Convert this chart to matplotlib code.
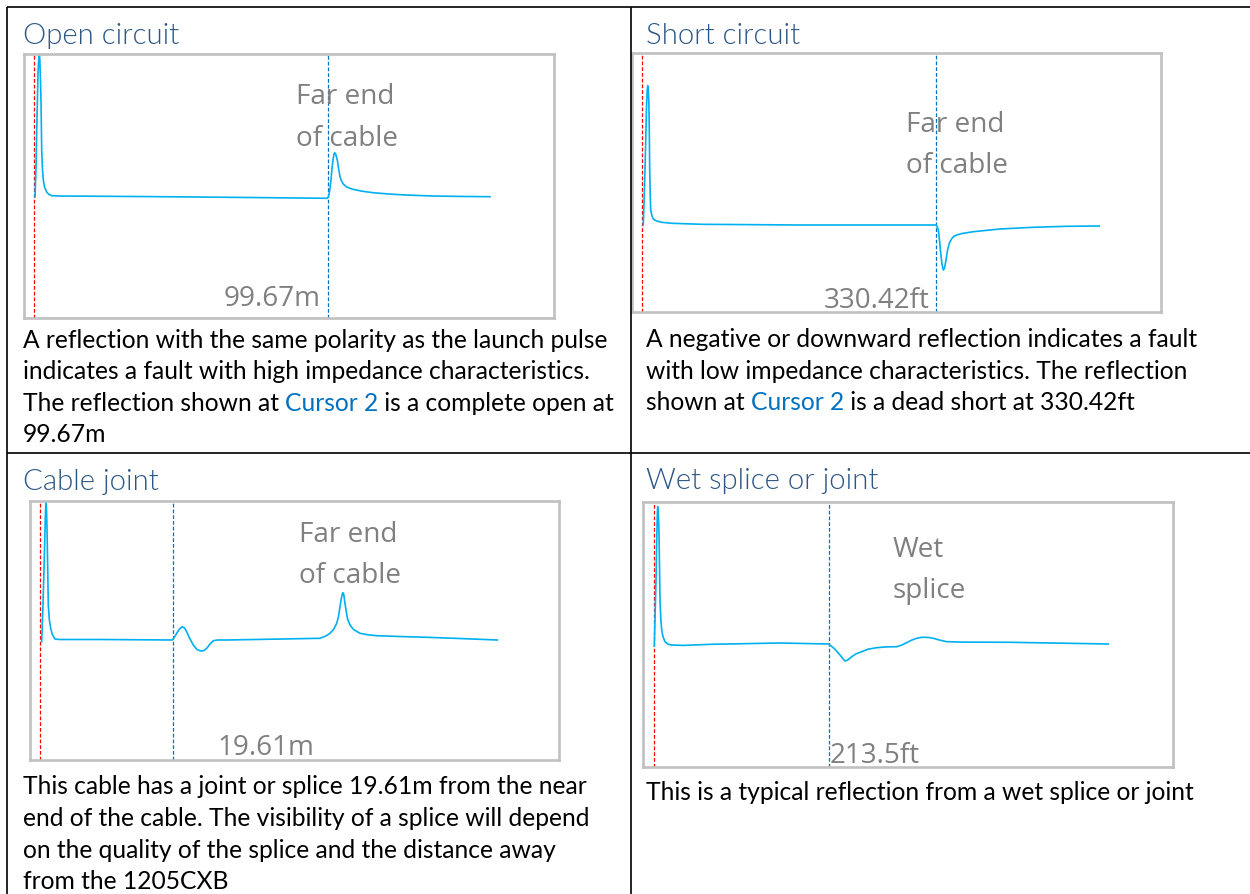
import matplotlib
matplotlib.use("Agg")
import matplotlib.pyplot as plt

# ---------------- data ----------------
titles = ["Open circuit", "Short circuit", "Cable joint", "Wet splice or joint"]
cursor_labels = ["99.67m", "330.42ft", "19.61m", "213.5ft"]
feature_labels = [["Far end", "of cable"], ["Far end", "of cable"],
                  ["Far end", "of cable"], ["Wet", "splice"]]

# descriptions: each line is a list of (text, is_highlight) segments
desc_open = [
    [("A reflection with the same polarity as the launch pulse", False)],
    [("indicates a fault with high impedance characteristics.", False)],
    [("The reflection shown at ", False), ("Cursor 2", True), (" is a complete open at", False)],
    [("99.67m", False)],
]
desc_short = [
    [("A negative or downward reflection indicates a fault", False)],
    [("with low impedance characteristics. The reflection", False)],
    [("shown at ", False), ("Cursor 2", True), (" is a dead short at 330.42ft", False)],
]
desc_joint = [
    [("This cable has a joint or splice 19.61m from the near", False)],
    [("end of the cable. The visibility of a splice will depend", False)],
    [("on the quality of the splice and the distance away", False)],
    [("from the 1205CXB", False)],
]
desc_wet = [
    [("This is a typical reflection from a wet splice or joint", False)],
]
descriptions = [desc_open, desc_short, desc_joint, desc_wet]

# cursor positions (distance units along the screen trace)
cursor1 = [10.0, 9.9, 10.7, 10.5]
cursor2 = [304.0, 303.5, 143.3, 185.5]

# TDR traces: distance vs amplitude
open_dist = [11, 12, 13, 14, 14.8, 15.3, 15.8, 16.4, 17, 17.7, 18.4, 19.3, 20.5, 22.7,
             25, 27.7, 36, 126, 226, 303,
             304.5, 305.8, 307, 308, 309, 310, 310.7, 311.6, 312.5, 313.3, 314.5, 316,
             317.5, 319.3, 322, 325, 329, 338, 349, 362, 376, 392, 409, 435, 466]
open_amp = [121, 150, 200, 245, 260, 264, 259, 240, 218, 168, 150, 138, 131, 126,
            123.5, 122.3, 122, 121.4, 120.5, 119.7,
            121.3, 128, 138, 150, 158, 164, 165.3, 164, 161, 158, 150, 141.3,
            137, 134, 131.5, 130, 128.7, 126.8, 125.3, 124.2, 123.3, 122.6, 122, 121.6, 121.3]

short_dist = [11.3, 12.5, 13.5, 14.5, 15.2, 15.7, 16.3, 16.8, 17.2, 17.7, 18.2, 18.7,
              19.8, 21.3, 24, 29.7, 40, 69.7, 168, 304,
              305.5, 306.3, 307.5, 308.7, 310, 311.3, 312.5, 314, 315.5, 317, 318, 320,
              322, 324.7, 330, 341.3, 355, 368, 385, 401, 434.7, 467.3]
short_amp = [87.3, 125, 162.3, 205, 222, 226.6, 222, 212, 190, 142.3, 118, 102.3,
             97, 93.3, 91.5, 90, 89, 88, 87.3, 87.3,
             85, 82.3, 72, 59.3, 48, 42.3, 44, 52.3, 62, 68, 70.6, 74,
             76, 77.3, 78.8, 80.6, 82, 83.3, 84.2, 85, 86, 86.3]

joint_dist = [12.2, 13.3, 14.5, 15.5, 16, 16.5, 17, 17.4, 17.8, 18.3, 18.8, 19.8, 21.2,
              23, 25.5, 30, 70.5, 142.8,
              145, 147.2, 150, 152.8, 155, 157.2, 160, 163.8, 167.5, 171.2, 174.5, 177.2,
              180.5, 183.8, 188, 197.2,
              290.5, 296, 300.5, 304, 307.2, 309, 310.5, 312, 313, 313.5, 314.2, 315.2,
              316.5, 318.2, 320.5, 324, 330.5, 338, 347.2, 370, 397.2, 430, 467.8]
joint_amp = [117.8, 150, 189.5, 230, 248, 257.8, 250, 235, 214.5, 185, 154.5, 140, 131.2,
             124.5, 120.5, 120, 120, 119.5,
             122.5, 126.2, 130.5, 132.8, 131.5, 127.8, 121.5, 114.5, 110, 108.5, 109, 111.2,
             115.5, 118.8, 119.5, 119.5,
             121.2, 123.3, 126.2, 130, 136.2, 143, 152.8, 162, 166, 166.8, 165.5, 158,
             149.5, 140, 134.5, 130, 126.2, 124.8, 123.8, 123, 122.2, 121, 119.5]

wet_dist = [11.3, 12.2, 13, 13.8, 14.3, 14.7, 15.2, 15.6, 16, 16.5, 17, 17.8, 18.7, 20,
            22, 25, 28.7, 40, 68.7, 137, 185.3,
            188.5, 192, 197, 200, 202, 204.5, 208.7, 213, 218.7, 225, 233.7, 243, 253.7,
            258.5, 263.7, 268.5, 273.7, 278, 282, 286, 290.3, 296, 303.7, 320, 367, 420, 465.3]
wet_amp = [120.7, 155, 186.7, 230, 252, 260, 255, 246, 233.7, 200, 166.7, 148, 136.7, 130,
           125, 122.5, 121.7, 121.3, 122.4, 123.7, 122.7,
           120.5, 117.4, 111.7, 108, 105.7, 106.5, 110, 112.8, 115, 117.5, 119, 119.8, 120,
           121.5, 124, 126.5, 128.4, 129.3, 129.4, 129.2, 128.4, 126.8, 125, 124.6, 124.4,
           123.5, 122.7]

traces = [(open_dist, open_amp), (short_dist, short_amp),
          (joint_dist, joint_amp), (wet_dist, wet_amp)]

# ---------------- layout / style ----------------
W, H = 1250, 894
TRACE_C = "#00B0F0"
RED_C = "#FF0000"
BLUE_C = "#0070C0"
BOX_C = "#C0C0C0"
TITLE_C = "#2B5685"
LABEL_C = "#808080"
TEXT_FONT = ["Lato", "DejaVu Sans"]
LABEL_FONT = ["Open Sans", "DejaVu Sans"]

# panel geometry in pixels: box (left, top, right, bottom), title pos, text start
boxes = [(24, 53.5, 553.5, 318), (632, 53.3, 1161, 312.3),
         (29.5, 500.5, 559, 759.5), (643, 501.7, 1172.5, 766.7)]
title_xy = [(23, 36), (646, 36), (23, 482), (646, 481.5)]
desc_x = [23, 646, 23, 646]
desc_y0 = [340, 339.5, 787, 792]
line_step = 31.6
feature_xy = [(296.5, 96.5, 139), (905.5, 124.7, 166.3),
              (299.3, 534.7, 576.3), (893, 549.7, 590.7)]
cursor_label_pos = [(321, 298.5, "right"), (930, 301, "right"),
                    (217, 748, "left"), (830, 756, "left")]

fig = plt.figure(figsize=(W / 100, H / 100), dpi=100)
fig.patch.set_facecolor("white")
base = fig.add_axes([0, 0, 1, 1])
base.set_xlim(0, W)
base.set_ylim(H, 0)
base.axis("off")
base.set_zorder(10)
base.patch.set_alpha(0)
renderer = fig.canvas.get_renderer()


def text_width(s, size, family, weight="normal"):
    t = base.text(0, 0, s, fontsize=size, family=family, fontweight=weight)
    w = t.get_window_extent(renderer).width
    t.remove()
    return w


def fit_size(strings, targets, family, weight="normal", ref=20.0):
    meas = sum(text_width(s, ref, family, weight) for s in strings)
    return ref * sum(targets) / meas


TITLE_W = 300
# font sizes fitted to the widths seen in the reference
title_size = fit_size(titles, [155, 155, 136, 234], TEXT_FONT, TITLE_W)
desc_size = fit_size(["A reflection with the same polarity as the launch pulse",
                      "A negative or downward reflection indicates a fault",
                      "This cable has a joint or splice 19.61m from the near",
                      "This is a typical reflection from a wet splice or joint"],
                     [587, 553.6, 563.6, 547.7], TEXT_FONT)
label_size = fit_size(["Far end", "of cable", "99.67m", "19.61m", "213.5ft"],
                      [93, 100, 98, 98, 94], LABEL_FONT)

# table grid lines
lw_grid = 1.2
base.plot([7, W], [6.5, 6.5], color="black", lw=lw_grid, solid_capstyle="butt")
base.plot([7, 7], [6.5, H], color="black", lw=lw_grid, solid_capstyle="butt")
base.plot([631, 631], [6.5, H], color="black", lw=lw_grid, solid_capstyle="butt")
base.plot([7, W], [453, 453], color="black", lw=lw_grid, solid_capstyle="butt")

for i in range(4):
    l, t, r, b = boxes[i]
    ax = fig.add_axes([l / W, 1 - b / H, (r - l) / W, (b - t) / H])
    ax.set_xlim(0, r - l)
    ax.set_ylim(0, b - t)
    ax.set_xticks([])
    ax.set_yticks([])
    for sp in ax.spines.values():
        sp.set_color(BOX_C)
        sp.set_linewidth(1.9)
    ax.axvline(cursor1[i], color=RED_C, lw=0.9, ls=(0, (3, 1.6)))
    ax.axvline(cursor2[i], color=BLUE_C, lw=0.9, ls=(0, (3, 1.6)))
    d, a = traces[i]
    ax.plot(d, a, color=TRACE_C, lw=1.2, solid_joinstyle="round", antialiased=True)

    # title
    base.text(title_xy[i][0], title_xy[i][1], titles[i], fontsize=title_size,
              family=TEXT_FONT, fontweight=TITLE_W, color=TITLE_C,
              ha="left", va="center")
    # feature label
    fx, fy1, fy2 = feature_xy[i]
    base.text(fx, fy1, feature_labels[i][0], fontsize=label_size, family=LABEL_FONT,
              color=LABEL_C, ha="left", va="center")
    base.text(fx, fy2, feature_labels[i][1], fontsize=label_size, family=LABEL_FONT,
              color=LABEL_C, ha="left", va="center")
    # cursor label
    cx, cy, cha = cursor_label_pos[i]
    base.text(cx, cy, cursor_labels[i], fontsize=label_size, family=LABEL_FONT,
              color=LABEL_C, ha=cha, va="center")
    # description
    for k, line in enumerate(descriptions[i]):
        y = desc_y0[i] + k * line_step
        prev = None
        for seg, hl in line:
            col = BLUE_C if hl else "black"
            if prev is None:
                prev = base.text(desc_x[i], y, seg, fontsize=desc_size, family=TEXT_FONT,
                                 color=col, ha="left", va="center")
            else:
                prev = base.annotate(seg, xy=(1, 0), xycoords=prev, fontsize=desc_size,
                                     family=TEXT_FONT, color=col, ha="left", va="bottom")

fig.savefig("out.png", dpi=100, facecolor="white")
